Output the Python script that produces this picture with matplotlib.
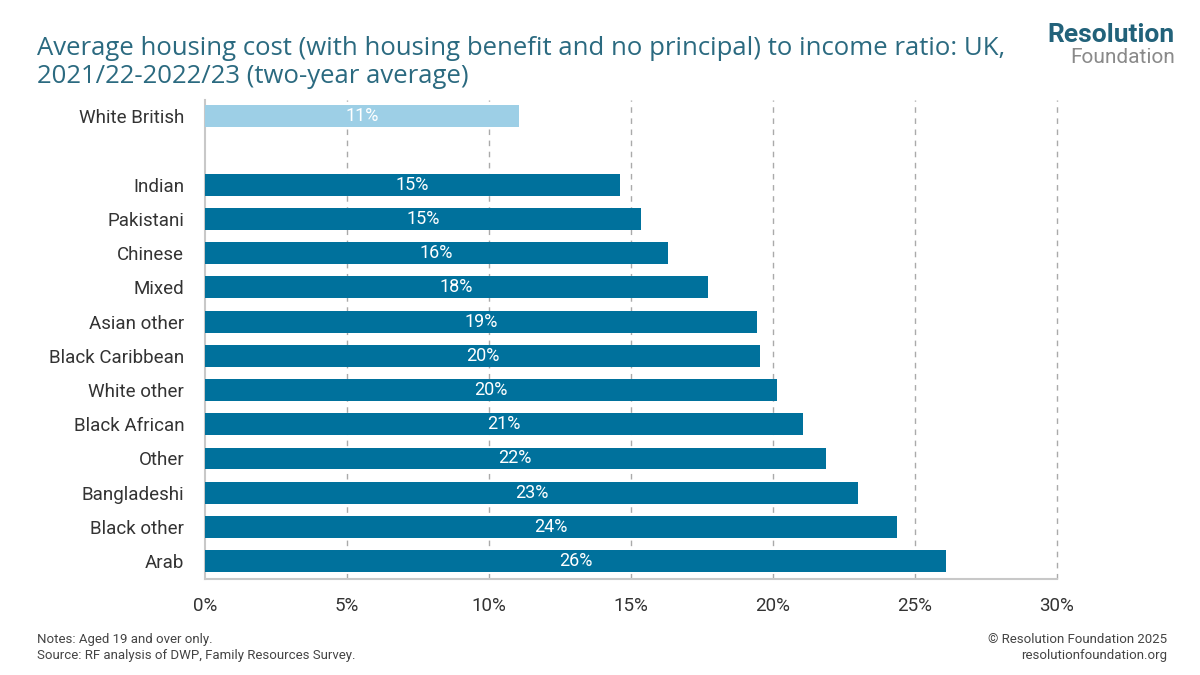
import matplotlib.pyplot as plt

# Data (housing cost to income ratio, %)
groups = ['White British', 'Indian', 'Pakistani', 'Chinese', 'Mixed', 'Asian other',
          'Black Caribbean', 'White other', 'Black African', 'Other', 'Bangladeshi',
          'Black other', 'Arab']
ratios = [11.05, 14.6, 15.35, 16.3, 17.7, 19.45, 19.55, 20.15, 21.05, 21.85, 23.0, 24.35, 26.1]
labels = ['11%', '15%', '15%', '16%', '18%', '19%', '20%', '20%', '21%', '22%', '23%', '24%', '26%']
xticks = [0, 5, 10, 15, 20, 25, 30]

dark = '#00719c'
light = '#9dcfe6'
teal = '#2b6a80'
grey_text = '#333333'

plt.rcParams['font.family'] = ['Roboto', 'DejaVu Sans']

fig = plt.figure(figsize=(12, 6.75), dpi=100)
ax = fig.add_axes([0.1708, 0.1422, 0.71, 0.7096])

# White British on its own row, then a blank row
ypos = [0] + [i + 2 for i in range(len(groups) - 1)]
colors = [light] + [dark] * (len(groups) - 1)

ax.barh(ypos, ratios, height=0.64, color=colors, zorder=3)
for y, v, lab in zip(ypos, ratios, labels):
    ax.text(v / 2, y, lab, ha='center', va='center', color='white', fontsize=13, zorder=4)

ax.set_ylim(13.52, -0.47)
ax.set_xlim(0, 30)
ax.set_yticks(ypos)
ax.set_yticklabels(groups)
ax.set_xticks(xticks)
ax.set_xticklabels([f'{t}%' for t in xticks])
ax.tick_params(axis='both', length=0, labelsize=13.5, labelcolor=grey_text)
ax.tick_params(axis='y', pad=15)
ax.tick_params(axis='x', pad=13)

# dashed verticals, the 30% one sits on the edge so don't clip it
for t in xticks[1:]:
    ax.axvline(t, color='#aaaaaa', lw=1, ls=(0, (4, 4)), zorder=1, clip_on=False)

for s in ['top', 'right']:
    ax.spines[s].set_visible(False)
for s in ['left', 'bottom']:
    ax.spines[s].set_color('#c8c8c8')
    ax.spines[s].set_linewidth(1.5)

# Title, two lines
fig.text(0.031, 0.9185, 'Average housing cost (with housing benefit and no principal) to income ratio: UK,',
         ha='left', va='baseline', fontsize=18.5, color=teal, family=['Open Sans', 'DejaVu Sans'])
fig.text(0.031, 0.877, '2021/22-2022/23 (two-year average)',
         ha='left', va='baseline', fontsize=18.5, color=teal, family=['Open Sans', 'DejaVu Sans'])

# Logo
fig.text(0.979, 0.938, 'Resolution', ha='right', va='baseline', fontsize=19, fontweight='bold', color='#22627a')
fig.text(0.979, 0.907, 'Foundation', ha='right', va='baseline', fontsize=15, color='#8a8a8a')

fig.text(0.031, 0.041, 'Notes: Aged 19 and over only.\nSource: RF analysis of DWP, Family Resources Survey.',
         ha='left', va='center', fontsize=9.5, color='#444444', linespacing=1.3)
fig.text(0.973, 0.041, '© Resolution Foundation 2025\nresolutionfoundation.org',
         ha='right', va='center', fontsize=9.5, color='#444444', linespacing=1.3)

fig.savefig('out.png', dpi=100)
